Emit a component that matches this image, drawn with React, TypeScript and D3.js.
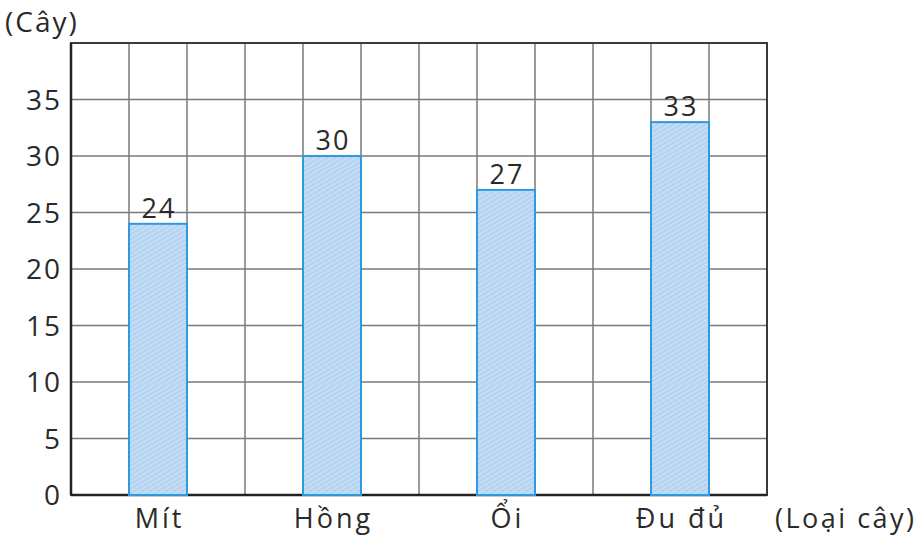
import React from "react";
import * as d3 from "d3";

const categories = ["Mít", "Hồng", "Ổi", "Đu đủ"];
const values = [24, 30, 27, 33];
const yTicks = [0, 5, 10, 15, 20, 25, 30, 35];
const yAxisTitle = "(Cây)";
const xAxisTitle = "(Loại cây)";

const W = 922;
const H = 537;
const left = 71;
const right = 767;
const top = 43;
const bottom = 495;
const columns = 12;
const font = "'Open Sans', 'Noto Sans', sans-serif";
const ink = "#2a2a2a";

export default function App() {
  const y = d3.scaleLinear().domain([0, 40]).range([bottom, top]);
  const col = d3.scaleLinear().domain([0, columns]).range([left, right]);
  const colW = (right - left) / columns;
  // each bar sits in the second column of its group of three
  const barX = (i: number) => col(1 + 3 * i);
  const gridRows = d3.range(0, 41, 5);
  const gridCols = d3.range(0, columns + 1);

  return (
    <svg width={W} height={H} style={{ position: "absolute", left: 0, top: 0, background: "#fff" }}>
      <defs>
        <pattern id="hatch" width="4" height="4" patternUnits="userSpaceOnUse" patternTransform="rotate(60)">
          <rect width="4" height="4" fill="#c3dcf5" />
          <line x1="0" y1="0" x2="0" y2="4" stroke="#9fc6ee" strokeWidth="1.4" />
        </pattern>
      </defs>
      {/* grid */}
      {gridRows.map((v) => (
        <line key={"r" + v} x1={left} x2={right} y1={y(v)} y2={y(v)} stroke="#7a7a7a" strokeWidth={1.5} />
      ))}
      {gridCols.map((c) => (
        <line key={"c" + c} x1={col(c)} x2={col(c)} y1={top} y2={bottom} stroke="#7a7a7a" strokeWidth={1.5} />
      ))}
      {/* frame */}
      <rect x={left} y={top} width={right - left} height={bottom - top} fill="none" stroke="#3a3a3a" strokeWidth={2} />
      <line x1={left} x2={left} y1={top} y2={bottom} stroke="#222" strokeWidth={2.5} />
      <line x1={left} x2={right} y1={bottom} y2={bottom} stroke="#222" strokeWidth={2.5} />
      {/* bars */}
      {values.map((v, i) => (
        <g key={categories[i]}>
          <rect
            x={barX(i)}
            y={y(v)}
            width={colW}
            height={bottom - y(v)}
            fill="url(#hatch)"
            stroke="#2f9ae0"
            strokeWidth={2}
          />
          <text
            x={barX(i) + colW / 2 + 1}
            y={y(v) - 6}
            textAnchor="middle"
            fontFamily={font}
            fontSize={27}
            letterSpacing={2}
            fill={ink}
          >
            {v}
          </text>
          <text
            x={barX(i) + colW / 2 + 1.5}
            y={528}
            textAnchor="middle"
            fontFamily={font}
            fontSize={27}
            letterSpacing={3}
            fill={ink}
          >
            {categories[i]}
          </text>
        </g>
      ))}
      {/* y tick labels */}
      {yTicks.map((t) => (
        <text
          key={"t" + t}
          x={62}
          y={y(t)}
          dy="0.36em"
          textAnchor="end"
          fontFamily={font}
          fontSize={28}
          letterSpacing={2}
          fill={ink}
        >
          {t}
        </text>
      ))}
      <text x={5} y={32} fontFamily={font} fontSize={28} letterSpacing={2} fill={ink}>
        {yAxisTitle}
      </text>
      <text x={775} y={528} fontFamily={font} fontSize={27} letterSpacing={2.5} fill={ink}>
        {xAxisTitle}
      </text>
    </svg>
  );
}
